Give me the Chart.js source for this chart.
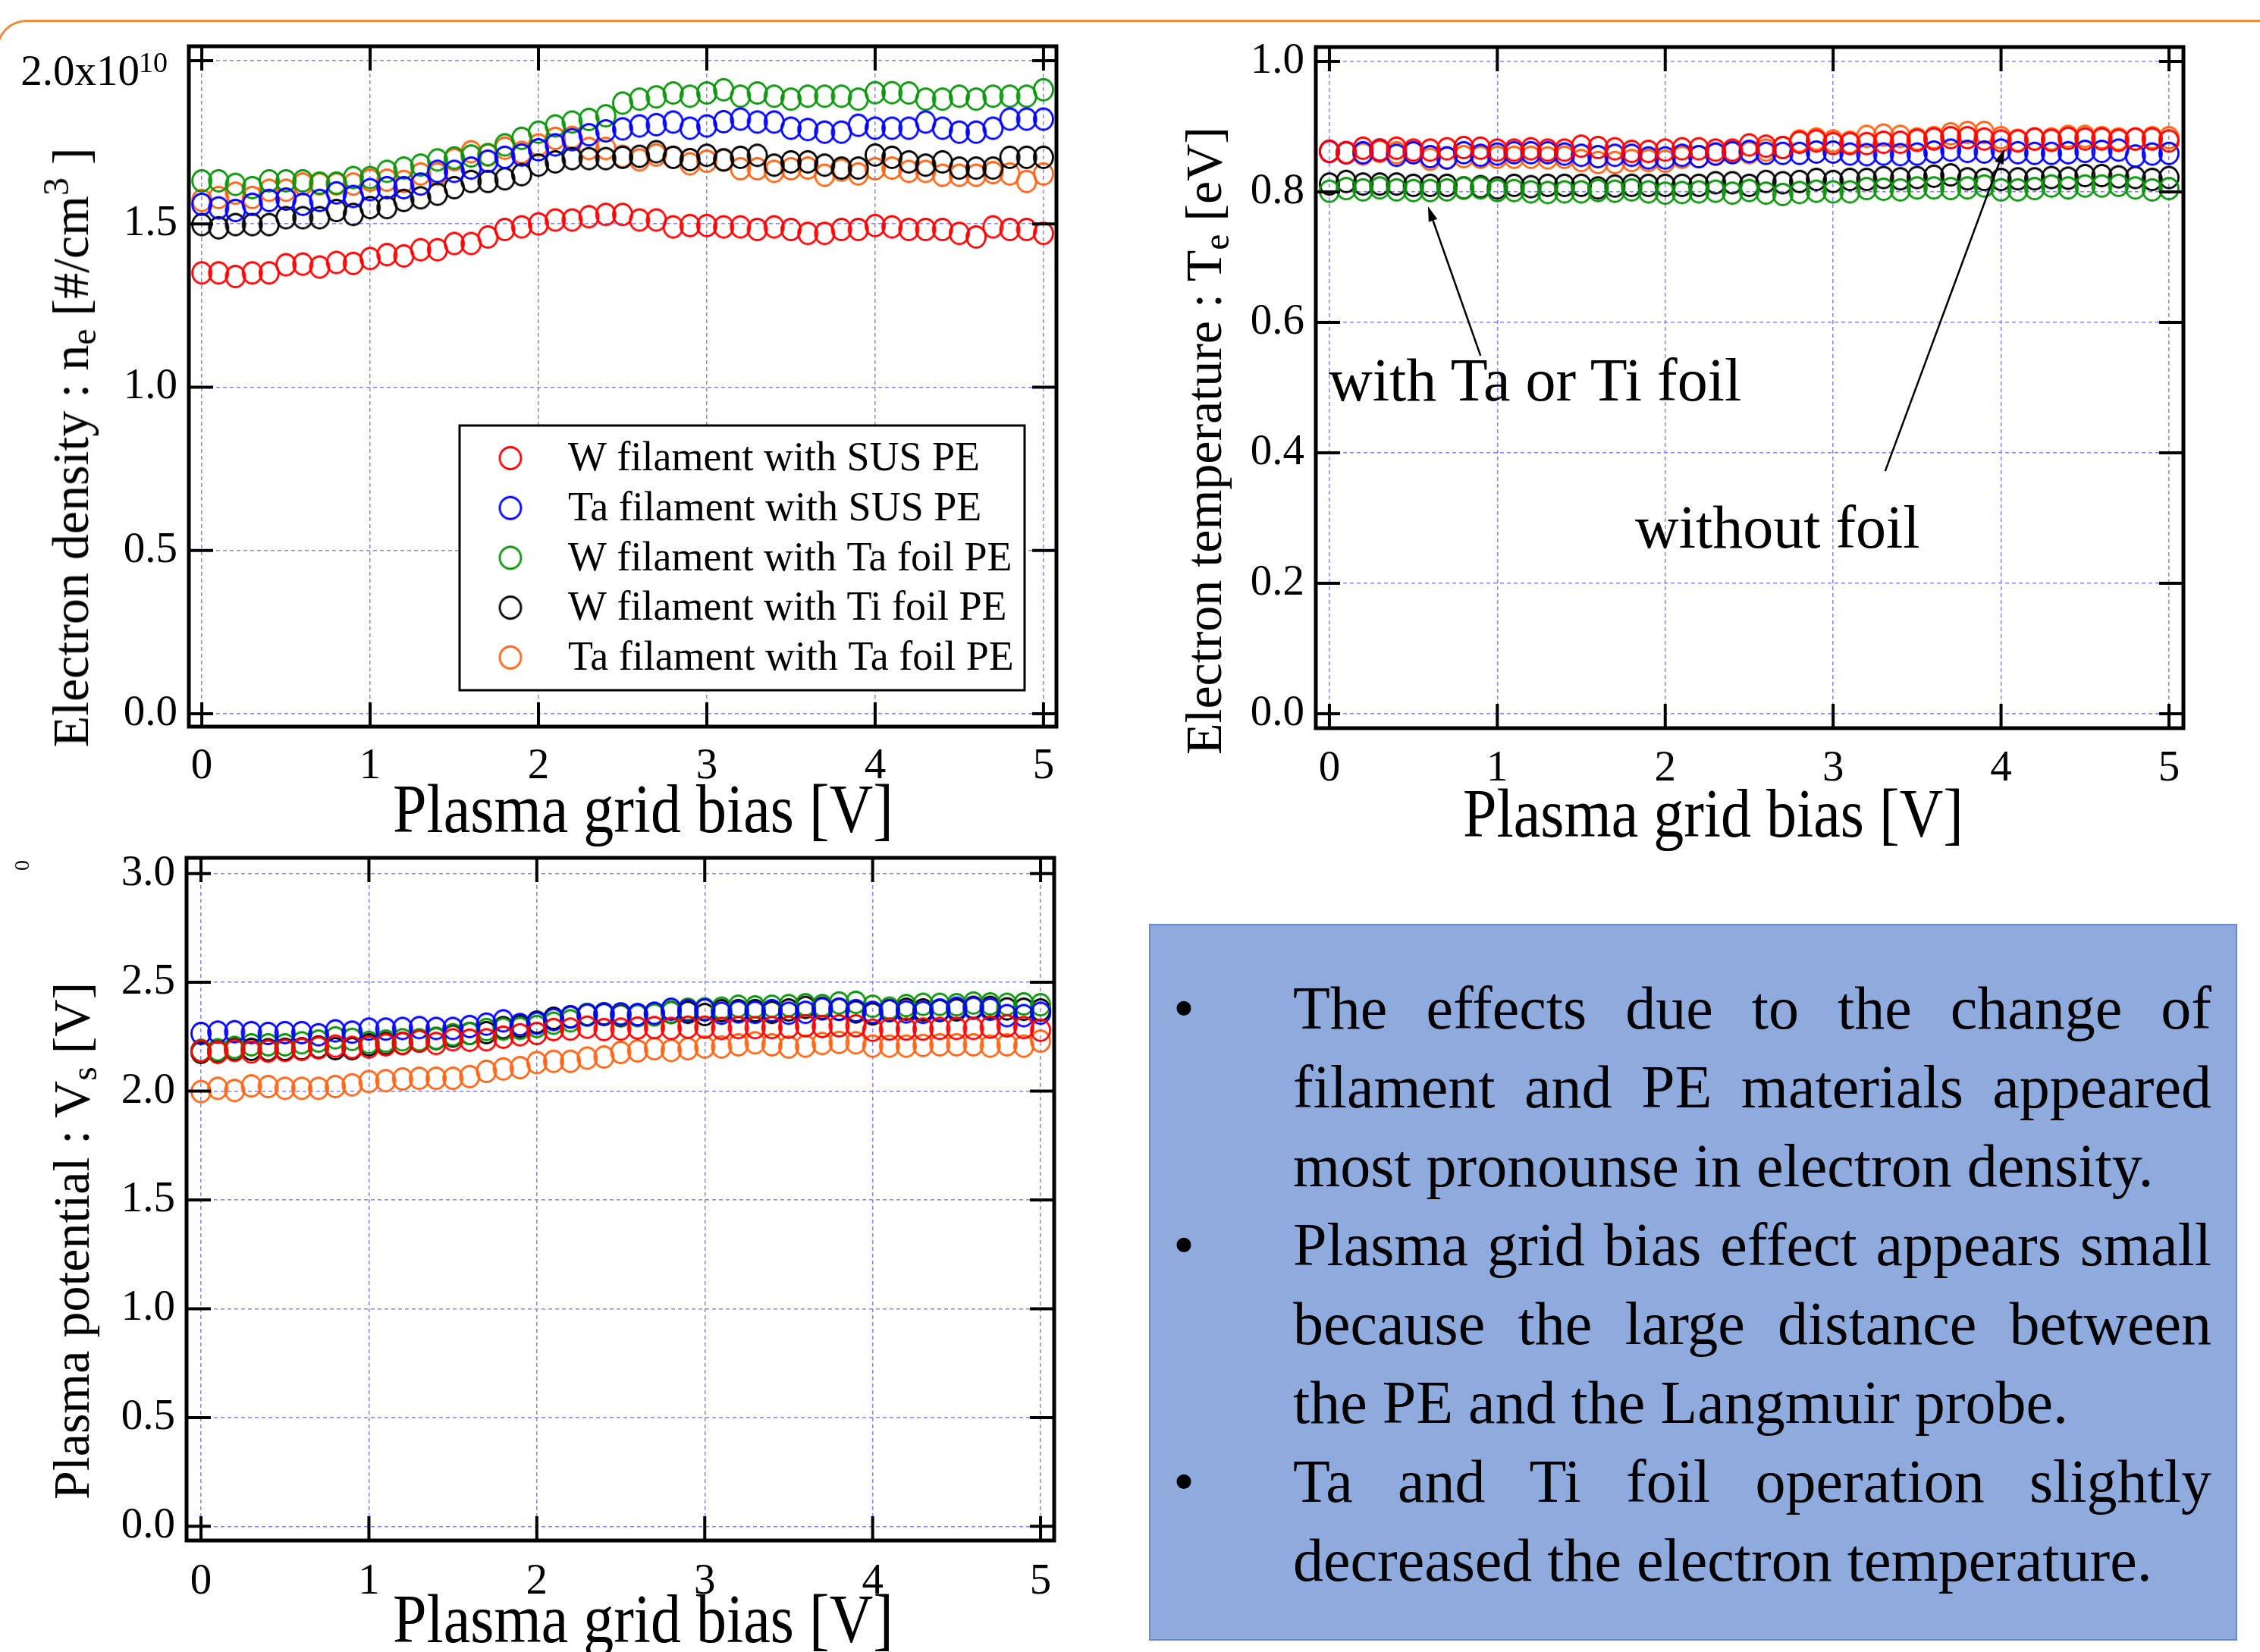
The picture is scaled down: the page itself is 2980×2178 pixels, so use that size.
<!DOCTYPE html>
<html>
<head>
<meta charset="utf-8">
<script src="https://cdn.jsdelivr.net/npm/chart.js@4.4.1/dist/chart.umd.min.js"></script>
<style>
html,body{margin:0;padding:0;background:#fff;}
body{width:2980px;height:2178px;position:relative;overflow:hidden;font-family:'Liberation Serif','Times New Roman',serif;}
canvas{position:absolute;}
.t{position:absolute;white-space:nowrap;color:#000;font-family:'Liberation Serif','Times New Roman',serif;z-index:5;}
.xt{font-size:80px;line-height:80px;transform-origin:50% 67px;transform:translateX(-50%) scaleY(1.13);}
.ann{font-size:80px;line-height:80px;}
.yt{font-size:68px;line-height:68px;transform:translate(-50%,-50%) rotate(-90deg);}
.sub,.sup{font-size:0.7em;position:relative;line-height:0;vertical-align:baseline;}
.sub{top:0.22em;}
.sup{top:-0.55em;}
#orange{position:absolute;left:-5px;top:26px;width:3100px;height:300px;border-top:3px solid #F08A3C;border-left:3px solid #F08A3C;border-top-left-radius:40px;box-sizing:border-box;}
#box{position:absolute;left:1515px;top:1218px;width:1431px;height:941px;background:#8FAADC;border:2px solid #6A8BD0;}
#lines{position:absolute;left:1705px;top:1277px;width:1211px;font-size:80px;line-height:104px;color:#000;font-family:'Liberation Serif','Times New Roman',serif;z-index:5;}
#lines .j{text-align:justify;text-align-last:justify;height:104px;}
#lines .l{text-align:left;height:104px;white-space:nowrap;}
#lines .b{position:absolute;left:-158px;}
</style>
</head>
<body>
<div id="orange"></div>
<canvas id="cNe" width="1420" height="1100" style="left:0px;top:0px;"></canvas>
<canvas id="cTe" width="1480" height="1100" style="left:1500px;top:0px;"></canvas>
<canvas id="cVs" width="1420" height="1078" style="left:0px;top:1100px;"></canvas>

<div class="t xt" style="left:848px;top:1030px;">Plasma grid bias [V]</div>
<div class="t xt" style="left:2259px;top:1036px;">Plasma grid bias [V]</div>
<div class="t xt" style="left:848px;top:2098px;">Plasma grid bias [V]</div>

<div class="t yt" style="left:93px;top:590px;">Electron density : n<span class="sub">e</span> [#/cm<span class="sup">3</span> ]</div>
<div class="t yt" style="left:1587px;top:581px;">Electron temperature : T<span class="sub">e</span> [eV]</div>
<div class="t yt" style="left:94px;top:1636px;">Plasma potential : V<span class="sub">s</span> [V]</div>

<div class="t ann" style="left:1752px;top:461px;">with Ta or Ti foil</div>
<div class="t ann" style="left:2156px;top:655px;">without foil</div>

<div class="t" style="left:22px;top:1127px;font-size:28px;line-height:28px;transform:rotate(-90deg);">0</div>

<div id="box"></div>
<div id="lines">
  <div class="j"><span class="b">•</span>The effects due to the change of</div>
  <div class="j">filament and PE materials appeared</div>
  <div class="l">most pronounse in electron density.</div>
  <div class="j"><span class="b">•</span>Plasma grid bias effect appears small</div>
  <div class="j">because the large distance between</div>
  <div class="l">the PE and the Langmuir probe.</div>
  <div class="j"><span class="b">•</span>Ta and Ti foil operation slightly</div>
  <div class="l">decreased the electron temperature.</div>
</div>

<script>
// ---------------- data ----------------
const bias = [0,0.1,0.2,0.3,0.4,0.5,0.6,0.7,0.8,0.9,1,1.1,1.2,1.3,1.4,1.5,1.6,1.7,1.8,1.9,2,2.1,2.2,2.3,2.4,2.5,2.6,2.7,2.8,2.9,3,3.1,3.2,3.3,3.4,3.5,3.6,3.7,3.8,3.9,4,4.1,4.2,4.3,4.4,4.5,4.6,4.7,4.8,4.9,5];

const seriesNames = ["W filament with SUS PE","Ta filament with SUS PE","W filament with Ta foil PE","W filament with Ti foil PE","Ta filament with Ta foil PE"];
const seriesColors = ["#ff0000","#0000ff","#0a960a","#000000","#ff6414"];

// Electron density [x1e10 #/cm3]
const neRed    = [1.350,1.350,1.339,1.350,1.350,1.375,1.377,1.368,1.382,1.379,1.394,1.406,1.402,1.421,1.421,1.440,1.440,1.460,1.483,1.491,1.500,1.512,1.512,1.522,1.529,1.529,1.512,1.512,1.491,1.495,1.495,1.491,1.491,1.483,1.491,1.483,1.471,1.471,1.483,1.483,1.495,1.491,1.483,1.483,1.483,1.471,1.460,1.491,1.483,1.483,1.471];
const neBlue   = [1.560,1.549,1.541,1.560,1.572,1.576,1.560,1.572,1.595,1.584,1.605,1.611,1.611,1.622,1.661,1.661,1.671,1.692,1.704,1.711,1.727,1.742,1.758,1.773,1.785,1.791,1.800,1.804,1.812,1.793,1.800,1.813,1.821,1.812,1.812,1.793,1.789,1.781,1.781,1.802,1.793,1.793,1.793,1.812,1.793,1.781,1.781,1.793,1.821,1.821,1.821];
const neGreen  = [1.632,1.632,1.621,1.611,1.632,1.632,1.632,1.625,1.625,1.642,1.642,1.661,1.671,1.680,1.696,1.702,1.708,1.712,1.742,1.762,1.781,1.800,1.812,1.820,1.831,1.870,1.882,1.889,1.901,1.891,1.901,1.911,1.891,1.901,1.891,1.882,1.891,1.891,1.891,1.882,1.902,1.902,1.901,1.882,1.882,1.891,1.882,1.891,1.891,1.891,1.911];
const neBlack  = [1.498,1.488,1.498,1.498,1.498,1.519,1.519,1.519,1.541,1.529,1.550,1.550,1.572,1.580,1.591,1.611,1.630,1.630,1.638,1.651,1.680,1.690,1.700,1.700,1.700,1.704,1.707,1.721,1.704,1.697,1.710,1.696,1.704,1.710,1.680,1.690,1.690,1.680,1.671,1.671,1.711,1.704,1.690,1.680,1.690,1.671,1.671,1.671,1.704,1.704,1.704];
const neOrange = [1.572,1.581,1.594,1.581,1.603,1.603,1.622,1.622,1.622,1.622,1.634,1.634,1.630,1.653,1.653,1.697,1.721,1.711,1.732,1.719,1.742,1.762,1.765,1.731,1.731,1.707,1.696,1.711,1.704,1.684,1.692,1.696,1.669,1.669,1.661,1.669,1.671,1.649,1.665,1.653,1.669,1.671,1.661,1.661,1.649,1.649,1.649,1.657,1.653,1.630,1.653];

// Electron temperature [eV]
const teRed    = [0.862,0.860,0.867,0.864,0.867,0.864,0.864,0.866,0.868,0.867,0.864,0.864,0.866,0.864,0.864,0.870,0.868,0.866,0.862,0.862,0.864,0.866,0.866,0.864,0.864,0.872,0.870,0.868,0.876,0.878,0.874,0.874,0.874,0.876,0.876,0.879,0.881,0.883,0.883,0.881,0.878,0.878,0.881,0.879,0.882,0.881,0.881,0.879,0.881,0.881,0.878];
const teBlue   = [0.862,0.860,0.860,0.864,0.856,0.860,0.854,0.852,0.860,0.856,0.858,0.860,0.860,0.860,0.858,0.856,0.854,0.856,0.856,0.852,0.852,0.856,0.854,0.858,0.860,0.862,0.859,0.859,0.859,0.861,0.861,0.858,0.857,0.858,0.857,0.858,0.861,0.864,0.862,0.861,0.864,0.860,0.859,0.859,0.860,0.862,0.862,0.864,0.855,0.858,0.859];
const teGreen  = [0.801,0.805,0.803,0.806,0.803,0.802,0.802,0.803,0.806,0.806,0.802,0.802,0.800,0.799,0.800,0.800,0.802,0.801,0.803,0.800,0.798,0.799,0.800,0.801,0.798,0.802,0.798,0.796,0.799,0.801,0.800,0.800,0.805,0.804,0.803,0.806,0.806,0.805,0.806,0.809,0.803,0.803,0.805,0.809,0.806,0.809,0.809,0.810,0.806,0.803,0.805];
const teBlack  = [0.812,0.816,0.812,0.812,0.812,0.810,0.810,0.810,0.806,0.808,0.806,0.810,0.808,0.810,0.810,0.810,0.806,0.809,0.810,0.810,0.810,0.810,0.810,0.814,0.814,0.810,0.816,0.814,0.816,0.819,0.816,0.819,0.819,0.822,0.820,0.822,0.824,0.826,0.820,0.819,0.819,0.820,0.820,0.822,0.821,0.825,0.825,0.823,0.822,0.819,0.822];
const teOrange = [0.862,0.860,0.858,0.862,0.860,0.860,0.850,0.852,0.854,0.853,0.853,0.853,0.853,0.852,0.853,0.848,0.845,0.845,0.848,0.848,0.847,0.853,0.854,0.858,0.861,0.860,0.864,0.868,0.878,0.881,0.878,0.876,0.885,0.887,0.885,0.881,0.883,0.889,0.891,0.891,0.883,0.879,0.881,0.881,0.885,0.885,0.883,0.881,0.881,0.883,0.883];

// Plasma potential [V]
const vsRed    = [2.184,2.178,2.187,2.180,2.184,2.187,2.192,2.199,2.207,2.201,2.203,2.213,2.219,2.230,2.219,2.236,2.234,2.236,2.248,2.259,2.265,2.283,2.285,2.294,2.283,2.285,2.290,2.292,2.288,2.294,2.294,2.288,2.292,2.292,2.292,2.294,2.300,2.297,2.300,2.300,2.280,2.285,2.285,2.285,2.288,2.288,2.288,2.294,2.300,2.292,2.280];
const vsBlue   = [2.265,2.271,2.273,2.269,2.265,2.269,2.269,2.259,2.277,2.271,2.285,2.285,2.288,2.292,2.288,2.288,2.297,2.308,2.323,2.306,2.312,2.329,2.341,2.350,2.355,2.355,2.352,2.358,2.376,2.370,2.373,2.358,2.364,2.362,2.370,2.358,2.362,2.378,2.376,2.370,2.362,2.370,2.364,2.362,2.373,2.381,2.381,2.376,2.347,2.347,2.358];
const vsGreen  = [2.187,2.190,2.201,2.213,2.213,2.213,2.222,2.230,2.245,2.238,2.224,2.230,2.236,2.236,2.242,2.259,2.265,2.283,2.285,2.288,2.297,2.312,2.323,2.352,2.355,2.352,2.348,2.350,2.362,2.376,2.378,2.381,2.390,2.387,2.390,2.393,2.397,2.393,2.405,2.408,2.390,2.381,2.393,2.399,2.399,2.397,2.405,2.401,2.399,2.401,2.397];
const vsBlack  = [2.178,2.184,2.192,2.192,2.190,2.192,2.195,2.203,2.195,2.195,2.213,2.219,2.219,2.230,2.242,2.253,2.265,2.269,2.292,2.297,2.317,2.335,2.341,2.352,2.352,2.347,2.348,2.355,2.362,2.362,2.352,2.370,2.370,2.370,2.362,2.373,2.385,2.381,2.376,2.364,2.355,2.370,2.376,2.373,2.370,2.373,2.385,2.385,2.378,2.376,2.373];
const vsOrange = [1.998,2.013,2.003,2.024,2.021,2.013,2.013,2.013,2.021,2.029,2.044,2.048,2.056,2.059,2.059,2.059,2.067,2.091,2.102,2.108,2.131,2.137,2.137,2.152,2.157,2.178,2.185,2.195,2.187,2.195,2.203,2.203,2.213,2.222,2.213,2.203,2.207,2.219,2.224,2.222,2.207,2.207,2.207,2.210,2.213,2.213,2.213,2.207,2.213,2.207,2.230];

// ticks
const xTickValues = [0,1,2,3,4,5];
const xTickLabels = ["0","1","2","3","4","5"];
const neTickValues = [0,0.5,1.0,1.5,2.0];
const neTickLabels = ["0.0","0.5","1.0","1.5",""];
const neTopLabel = "2.0x10"; const neTopExp = "10";
const teTickValues = [0,0.2,0.4,0.6,0.8,1.0];
const teTickLabels = ["0.0","0.2","0.4","0.6","0.8","1.0"];
const vsTickValues = [0,0.5,1.0,1.5,2.0,2.5,3.0];
const vsTickLabels = ["0.0","0.5","1.0","1.5","2.0","2.5","3.0"];

// annotation arrows in data space (Te chart)
const teArrows = [
  {from:[0.90,0.549], to:[0.587,0.778]},
  {from:[3.31,0.372], to:[4.02,0.866]}
];

// ---------------- drawing ----------------
const FONT = "'Liberation Serif','Times New Roman',serif";
Chart.defaults.font.family = FONT;

function ellipseMarker(color, rx, ry, lw){
  const c = document.createElement('canvas');
  c.width = Math.ceil(2*rx + lw + 2); c.height = Math.ceil(2*ry + lw + 2);
  const g = c.getContext('2d');
  g.strokeStyle = color; g.lineWidth = lw;
  g.beginPath(); g.ellipse(c.width/2, c.height/2, rx, ry, 0, 0, Math.PI*2); g.stroke();
  return c;
}
const markers = seriesColors.map(c => ellipseMarker(c, 12.5, 14, 2.8));
const legendMarkers = seriesColors.map(c => ellipseMarker(c, 14, 14.5, 2.8));

const framePlugin = {
  id:'frame',
  afterDatasetsDraw(chart){
    const {ctx, chartArea:a, scales:{x, y}} = chart;
    const L = 32;
    ctx.save();
    ctx.strokeStyle = '#000';
    ctx.lineWidth = 4;
    ctx.beginPath();
    x.ticks.forEach(t => {
      const p = x.getPixelForValue(t.value);
      ctx.moveTo(p, a.top); ctx.lineTo(p, a.top + L);
      ctx.moveTo(p, a.bottom); ctx.lineTo(p, a.bottom - L);
    });
    y.ticks.forEach(t => {
      const p = y.getPixelForValue(t.value);
      ctx.moveTo(a.left, p); ctx.lineTo(a.left + L, p);
      ctx.moveTo(a.right, p); ctx.lineTo(a.right - L, p);
    });
    ctx.stroke();
    ctx.lineWidth = 5;
    ctx.strokeRect(a.left, a.top, a.right - a.left, a.bottom - a.top);
    ctx.restore();
  }
};

const legendPlugin = {
  id:'boxLegend',
  afterDatasetsDraw(chart){
    const ctx = chart.ctx;
    const bx = 606, by = 561, bw = 745, bh = 349;
    ctx.save();
    ctx.fillStyle = '#fff';
    ctx.fillRect(bx, by, bw, bh);
    ctx.strokeStyle = '#000'; ctx.lineWidth = 3;
    ctx.strokeRect(bx, by, bw, bh);
    ctx.font = "54px " + FONT;
    ctx.fillStyle = '#000';
    ctx.textBaseline = 'middle';
    ctx.textAlign = 'left';
    chart.data.datasets.forEach((ds, i) => {
      const cy = 604 + 65.7 * i;
      const m = legendMarkers[i];
      ctx.drawImage(m, 673 - m.width/2, cy - m.height/2);
      ctx.fillText(ds.label, 749, cy + 2);
    });
    ctx.restore();
  }
};

const expLabelPlugin = {
  id:'expLabel',
  afterDraw(chart){
    const {ctx, scales:{y}} = chart;
    const p = y.getPixelForValue(2.0);
    ctx.save();
    ctx.fillStyle = '#000';
    ctx.textBaseline = 'alphabetic';
    ctx.textAlign = 'right';
    ctx.font = "57px " + FONT;
    ctx.fillText(neTopLabel, y.right - 65, p + 32);
    ctx.textAlign = 'left';
    ctx.font = "38px " + FONT;
    ctx.fillText(neTopExp, y.right - 66, p + 15);
    ctx.restore();
  }
};

const arrowPlugin = {
  id:'arrows',
  afterDatasetsDraw(chart){
    const {ctx, scales:{x, y}} = chart;
    ctx.save();
    ctx.strokeStyle = '#000'; ctx.fillStyle = '#000'; ctx.lineWidth = 2.5;
    teArrows.forEach(a => {
      const x1 = x.getPixelForValue(a.from[0]), y1 = y.getPixelForValue(a.from[1]);
      const x2 = x.getPixelForValue(a.to[0]), y2 = y.getPixelForValue(a.to[1]);
      const ang = Math.atan2(y2 - y1, x2 - x1);
      const HL = 20, HW = 6;
      const bx = x2 - HL * Math.cos(ang), by = y2 - HL * Math.sin(ang);
      ctx.beginPath(); ctx.moveTo(x1, y1); ctx.lineTo(bx, by); ctx.stroke();
      ctx.beginPath();
      ctx.moveTo(x2, y2);
      ctx.lineTo(bx + HW * Math.sin(ang), by - HW * Math.cos(ang));
      ctx.lineTo(bx - HW * Math.sin(ang), by + HW * Math.cos(ang));
      ctx.closePath(); ctx.fill();
    });
    ctx.restore();
  }
};

function makeChart(id, o){
  const gridOpts = {color:'#8484ff', lineWidth:1.5, drawTicks:false};
  const borderOpts = {display:false, dash:[5,4]};
  const tickFont = {size:57, family:FONT};
  return new Chart(document.getElementById(id), {
    type:'scatter',
    data:{
      datasets: seriesNames.map((name, i) => ({
        label:name,
        data: bias.map((b, j) => ({x:b, y:o.values[i][j]})),
        pointStyle: markers[i],
        pointRadius: 13,
        showLine:false
      }))
    },
    options:{
      responsive:false, animation:false, devicePixelRatio:1,
      layout:{padding:o.padding},
      plugins:{legend:{display:false}, tooltip:{enabled:false}},
      events:[],
      scales:{
        x:{
          type:'linear', min:o.xmin, max:o.xmax,
          afterBuildTicks: s => { s.ticks = xTickValues.map(v => ({value:v})); },
          afterFit: s => { s.height = o.xh; s.paddingLeft = 0; s.paddingRight = 0; },
          grid:gridOpts, border:borderOpts,
          ticks:{padding:o.xpad, color:'#000', font:tickFont, maxRotation:0, autoSkip:false,
                 callback:(v, i) => xTickLabels[i]}
        },
        y:{
          type:'linear', min:o.ymin, max:o.ymax,
          afterBuildTicks: s => { s.ticks = o.yTicks.map(v => ({value:v})); },
          afterFit: s => { s.width = o.yw; s.paddingTop = 0; s.paddingBottom = 0; },
          grid:gridOpts, border:borderOpts,
          ticks:{padding:15, color:'#000', font:tickFont, autoSkip:false,
                 callback:(v, i) => o.yLabels[i]}
        }
      }
    },
    plugins:[framePlugin].concat(o.extra || [])
  });
}

makeChart('cNe', {
  values:[neRed, neBlue, neGreen, neBlack, neOrange],
  padding:{left:0, top:61, right:27, bottom:0},
  xh:142, yw:249, xpad:19,
  xmin:-0.077, xmax:5.077, ymin:-0.0395, ymax:2.044,
  yTicks:neTickValues, yLabels:neTickLabels,
  extra:[legendPlugin, expLabelPlugin]
});

makeChart('cTe', {
  values:[teRed, teBlue, teGreen, teBlack, teOrange],
  padding:{left:0, top:62, right:101, bottom:0},
  xh:140, yw:235, xpad:20,
  xmin:-0.081, xmax:5.086, ymin:-0.022, ymax:1.022,
  yTicks:teTickValues, yLabels:teTickLabels,
  extra:[arrowPlugin]
});

makeChart('cVs', {
  values:[vsRed, vsBlue, vsGreen, vsBlack, vsOrange],
  padding:{left:0, top:31, right:30, bottom:0},
  xh:147, yw:246, xpad:21,
  xmin:-0.086, xmax:5.081, ymin:-0.065, ymax:3.072,
  yTicks:vsTickValues, yLabels:vsTickLabels
});
</script>
</body>
</html>
